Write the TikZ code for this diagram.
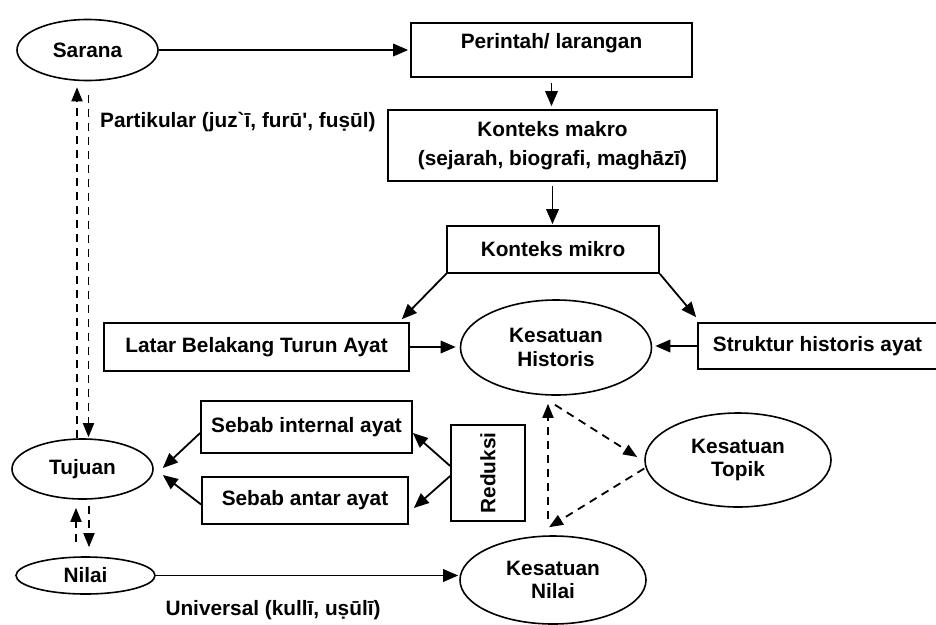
\documentclass[tikz,border=0pt]{standalone}
\usepackage{fontspec}
\usepackage{graphicx}
\setmainfont{Liberation Sans}[Ligatures=TeXOff]
\usetikzlibrary{shapes.geometric,arrows.meta,calc}
\begin{document}
\begin{tikzpicture}[x=1pt,y=-1pt,
  every node/.style={font=\fontsize{20.8}{23.5}\selectfont\bfseries, inner sep=0pt, align=center},
  box/.style 2 args={draw, rectangle, line width=1.7pt, minimum width=#1, minimum height=#2},
  oval/.style 2 args={draw, ellipse, line width=1.6pt, minimum width=#1, minimum height=#2},
  arr/.style={line width=1.8pt, -{Triangle[length=15pt,width=12.5pt]}},
  darr/.style={line width=1.8pt, dash pattern=on 8pt off 6pt, -{Triangle[length=14pt,width=11pt]}},
  lbl/.style={font=\fontsize{20.8}{23.5}\selectfont\bfseries}
]
\useasboundingbox (0,0) rectangle (936,624);

% nodes
\node[oval={141}{61}] (sarana) at (87.5,50) {Sarana};
\node[box={281}{54}, text depth=18pt] (perintah) at (551.5,50) {Perintah/ larangan};
\node[box={329}{71}] (makro) at (552.5,145.5) {Konteks makro\\[6pt](sejarah, biografi, maghāzī)};
\node[box={212}{47}] (mikro) at (553,249.5) {Konteks mikro};
\node[box={305}{48}] (latar) at (256.5,347) {Latar Belakang Turun Ayat};
\node[oval={191}{95}] (historis) at (556,347.5) {Kesatuan\\Historis};
\node[box={239}{46}] (struktur) at (817.5,346) {Struktur historis ayat};
\node[oval={141}{60}] (tujuan) at (82.5,469) {Tujuan};
\node[box={211}{52}] (internal) at (306.5,427) {Sebab internal ayat};
\node[box={206}{47}] (antar) at (305,500.5) {Sebab antar ayat};
\node[box={74}{96}] (reduksi) at (488,473) {\rotatebox{90}{Reduksi}};
\node[oval={139}{37}] (nilai) at (85.5,575.5) {Nilai};
\node[oval={186}{88}] (knilai) at (553,580) {Kesatuan\\Nilai};
\node[oval={186}{94}] (topik) at (738,460) {Kesatuan\\Topik};

\node[lbl, anchor=west] (partikular) at (100,122) {Partikular (juz`ī, furū', fuṣūl)};
\node[lbl] (universal) at (273,610) {Universal (kullī, uṣūlī)};

% solid connectors
\draw[arr, shorten >=2pt] (sarana.east) -- (perintah.west);
\draw[arr, shorten <=5pt, shorten >=3pt] (perintah.south) -- (perintah.south |- makro.north);
\draw[arr, shorten <=4pt, shorten >=1pt] (makro.south) -- (makro.south |- mikro.north);
\draw[arr] (mikro.south west) -- ($(latar.north east)+(-8,-3)$);
\draw[arr] (mikro.south east) -- ($(struktur.north west)+(-1,-5)$);
\draw[arr, shorten >=4pt] (latar.east) -- (latar.east -| historis.west);
\draw[arr, shorten >=3pt] (struktur.west) -- (struktur.west -| historis.east);
\draw[arr] ($(internal.west)+(0,6)$) -- ($(tujuan.east)+(9,-1)$);
\draw[arr] ($(antar.west)+(0,4)$) -- ($(tujuan.east)+(9,6)$);
\draw[arr] ($(reduksi.west)+(0,-7)$) -- ($(internal.east)+(0,6)$);
\draw[arr] ($(reduksi.west)+(0,3)$) -- ($(antar.east)+(5,7.5)$);
\draw[arr, shorten >=1pt] (nilai.east) -- (nilai.east -| knilai.west);

% dashed connectors
\draw[darr] ($(tujuan.north)+(-5.5,0)$) -- ($(sarana.south)+(-10.5,6)$);
\draw[darr] ($(sarana.south)+(1,14)$) -- ($(tujuan.north)+(6,-1)$);
\draw[darr] ($(nilai.north)+(-9.5,-14)$) -- ($(tujuan.south)+(-6.5,8)$);
\draw[darr] ($(tujuan.south)+(6.5,6)$) -- ($(nilai.north)+(3.5,-9)$);
\draw[darr] ($(knilai.north)+(-5,-16)$) -- ($(historis.south)+(-8,8)$);
\draw[darr] ($(historis.south)+(-1,9)$) -- ($(topik.west)+(-7,-3)$);
\draw[darr] ($(topik.west)+(0,8.5)$) -- ($(knilai.north)+(-4,-8)$);
\end{tikzpicture}
\end{document}
